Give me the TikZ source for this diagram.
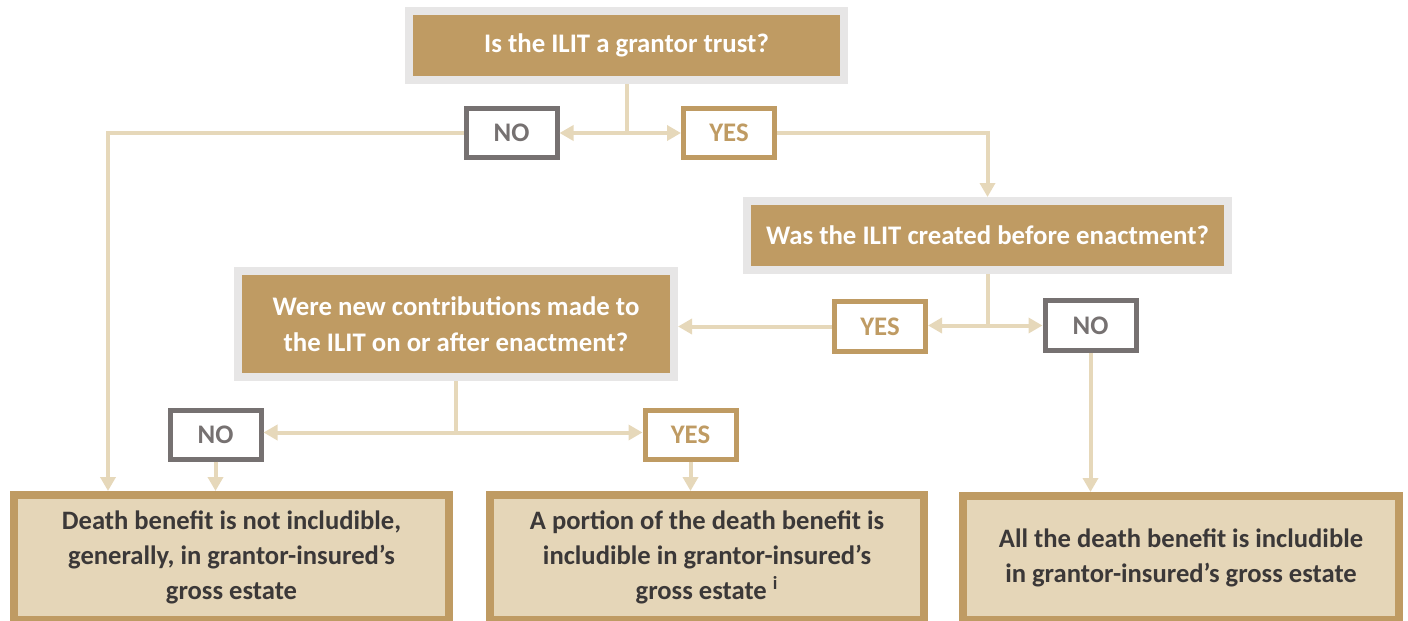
\documentclass[tikz,border=0pt]{standalone}
\usepackage{fontspec}
\setmainfont{Carlito}
\usetikzlibrary{arrows.meta,calc}
\definecolor{tanc}{HTML}{BF9B63}
\definecolor{framec}{HTML}{E7E6E6}
\definecolor{linec}{HTML}{E6D8BA}
\definecolor{boxfill}{HTML}{E5D6B8}
\definecolor{nogray}{HTML}{767171}
\definecolor{darktext}{HTML}{3B3838}
\begin{document}
\begin{tikzpicture}[x=0.5pt,y=-0.5pt,
  qbox/.style={rectangle, fill=tanc, draw=framec, line width=4pt, text=white,
    font=\bfseries\fontsize{13.4}{18}\selectfont, align=center, inner sep=0pt},
  nobox/.style={rectangle, draw=nogray, line width=2.5pt, fill=white, text=nogray,
    font=\bfseries\fontsize{13.4}{16}\selectfont, minimum width=45.5pt, minimum height=24.5pt, inner sep=0pt},
  yesbox/.style={nobox, draw=tanc, text=tanc},
  endbox/.style={rectangle, fill=boxfill, draw=tanc, line width=4pt, text=darktext,
    font=\bfseries\fontsize{13.3}{17.5}\selectfont, align=center, inner sep=0pt},
  conn/.style={draw=linec, line width=2pt},
  arr/.style={conn, -{Triangle[width=7.5pt,length=7pt]}}
]
\useasboundingbox (0,0) rectangle (1408,621);
\clip (0,0) rectangle (1408,621);

\node[qbox, minimum width=217.5pt, minimum height=34.5pt] (Q1) at (626.5,45.5) {Is the ILIT a grantor trust?};
\node[nobox] (NO1) at (511.5,133) {NO};
\node[yesbox] (YES1) at (729,133) {YES};

\node[qbox, minimum width=240.5pt, minimum height=34.5pt] (Q2) at (987.5,235.5) {Was the ILIT created before enactment?};
\node[yesbox, minimum height=25pt] (YES2) at (880,326.5) {YES};
\node[nobox, minimum height=25pt] (NO2) at (1090.5,325.5) {NO};

\node[qbox, minimum width=218pt, minimum height=53pt] (Q3) at (456,324) {Were new contributions made to\\the ILIT on or after enactment?};
\node[nobox] (NO3) at (215.5,434.5) {NO};
\node[yesbox] (YES3) at (690.5,434.5) {YES};

\node[endbox, minimum width=217.5pt, minimum height=62.5pt] (D1) at (231.5,557.5) {Death benefit is not includible,\\generally, in grantor-insured’s\\gross estate};
\node[endbox, minimum width=217pt, minimum height=62.5pt] (D2) at (707,557.5) {A portion of the death benefit is\\includible in grantor-insured’s\\gross estate \textsuperscript{i}};
\node[endbox, minimum width=218pt, minimum height=62pt] (D3) at (1181,558) {All the death benefit is includible\\in grantor-insured’s gross estate};

% Q1 branches
\draw[conn] (Q1.south) -- (Q1.south |- NO1.east) coordinate (j1);
\draw[arr] (j1) -- (NO1.east);
\draw[arr] (j1) -- (YES1.west);
\coordinate (c1) at (108,133);
\draw[arr] (NO1.west) -- (c1) -- (c1 |- D1.north);
\draw[arr] (YES1.east) -| (Q2.north);

% Q2 branches
\draw[conn] (Q2.south) -- (Q2.south |- NO2.west) coordinate (j2);
\draw[arr] (j2) -- (j2 -| YES2.east);
\draw[arr] (j2) -- (NO2.west);
\draw[arr] (YES2.west) -- (YES2.west -| Q3.east);
\draw[arr] (NO2.south) -- (NO2.south |- D3.north);

% Q3 branches
\draw[conn] (Q3.south) -- ($(Q3.south |- NO3.east)+(0,-2)$) coordinate (j3);
\draw[arr] (j3) -- (j3 -| NO3.east);
\draw[arr] (j3) -- (j3 -| YES3.west);
\draw[arr] (NO3.south) -- (NO3.south |- D1.north);
\draw[arr] (YES3.south) -- (YES3.south |- D2.north);
\end{tikzpicture}
\end{document}
